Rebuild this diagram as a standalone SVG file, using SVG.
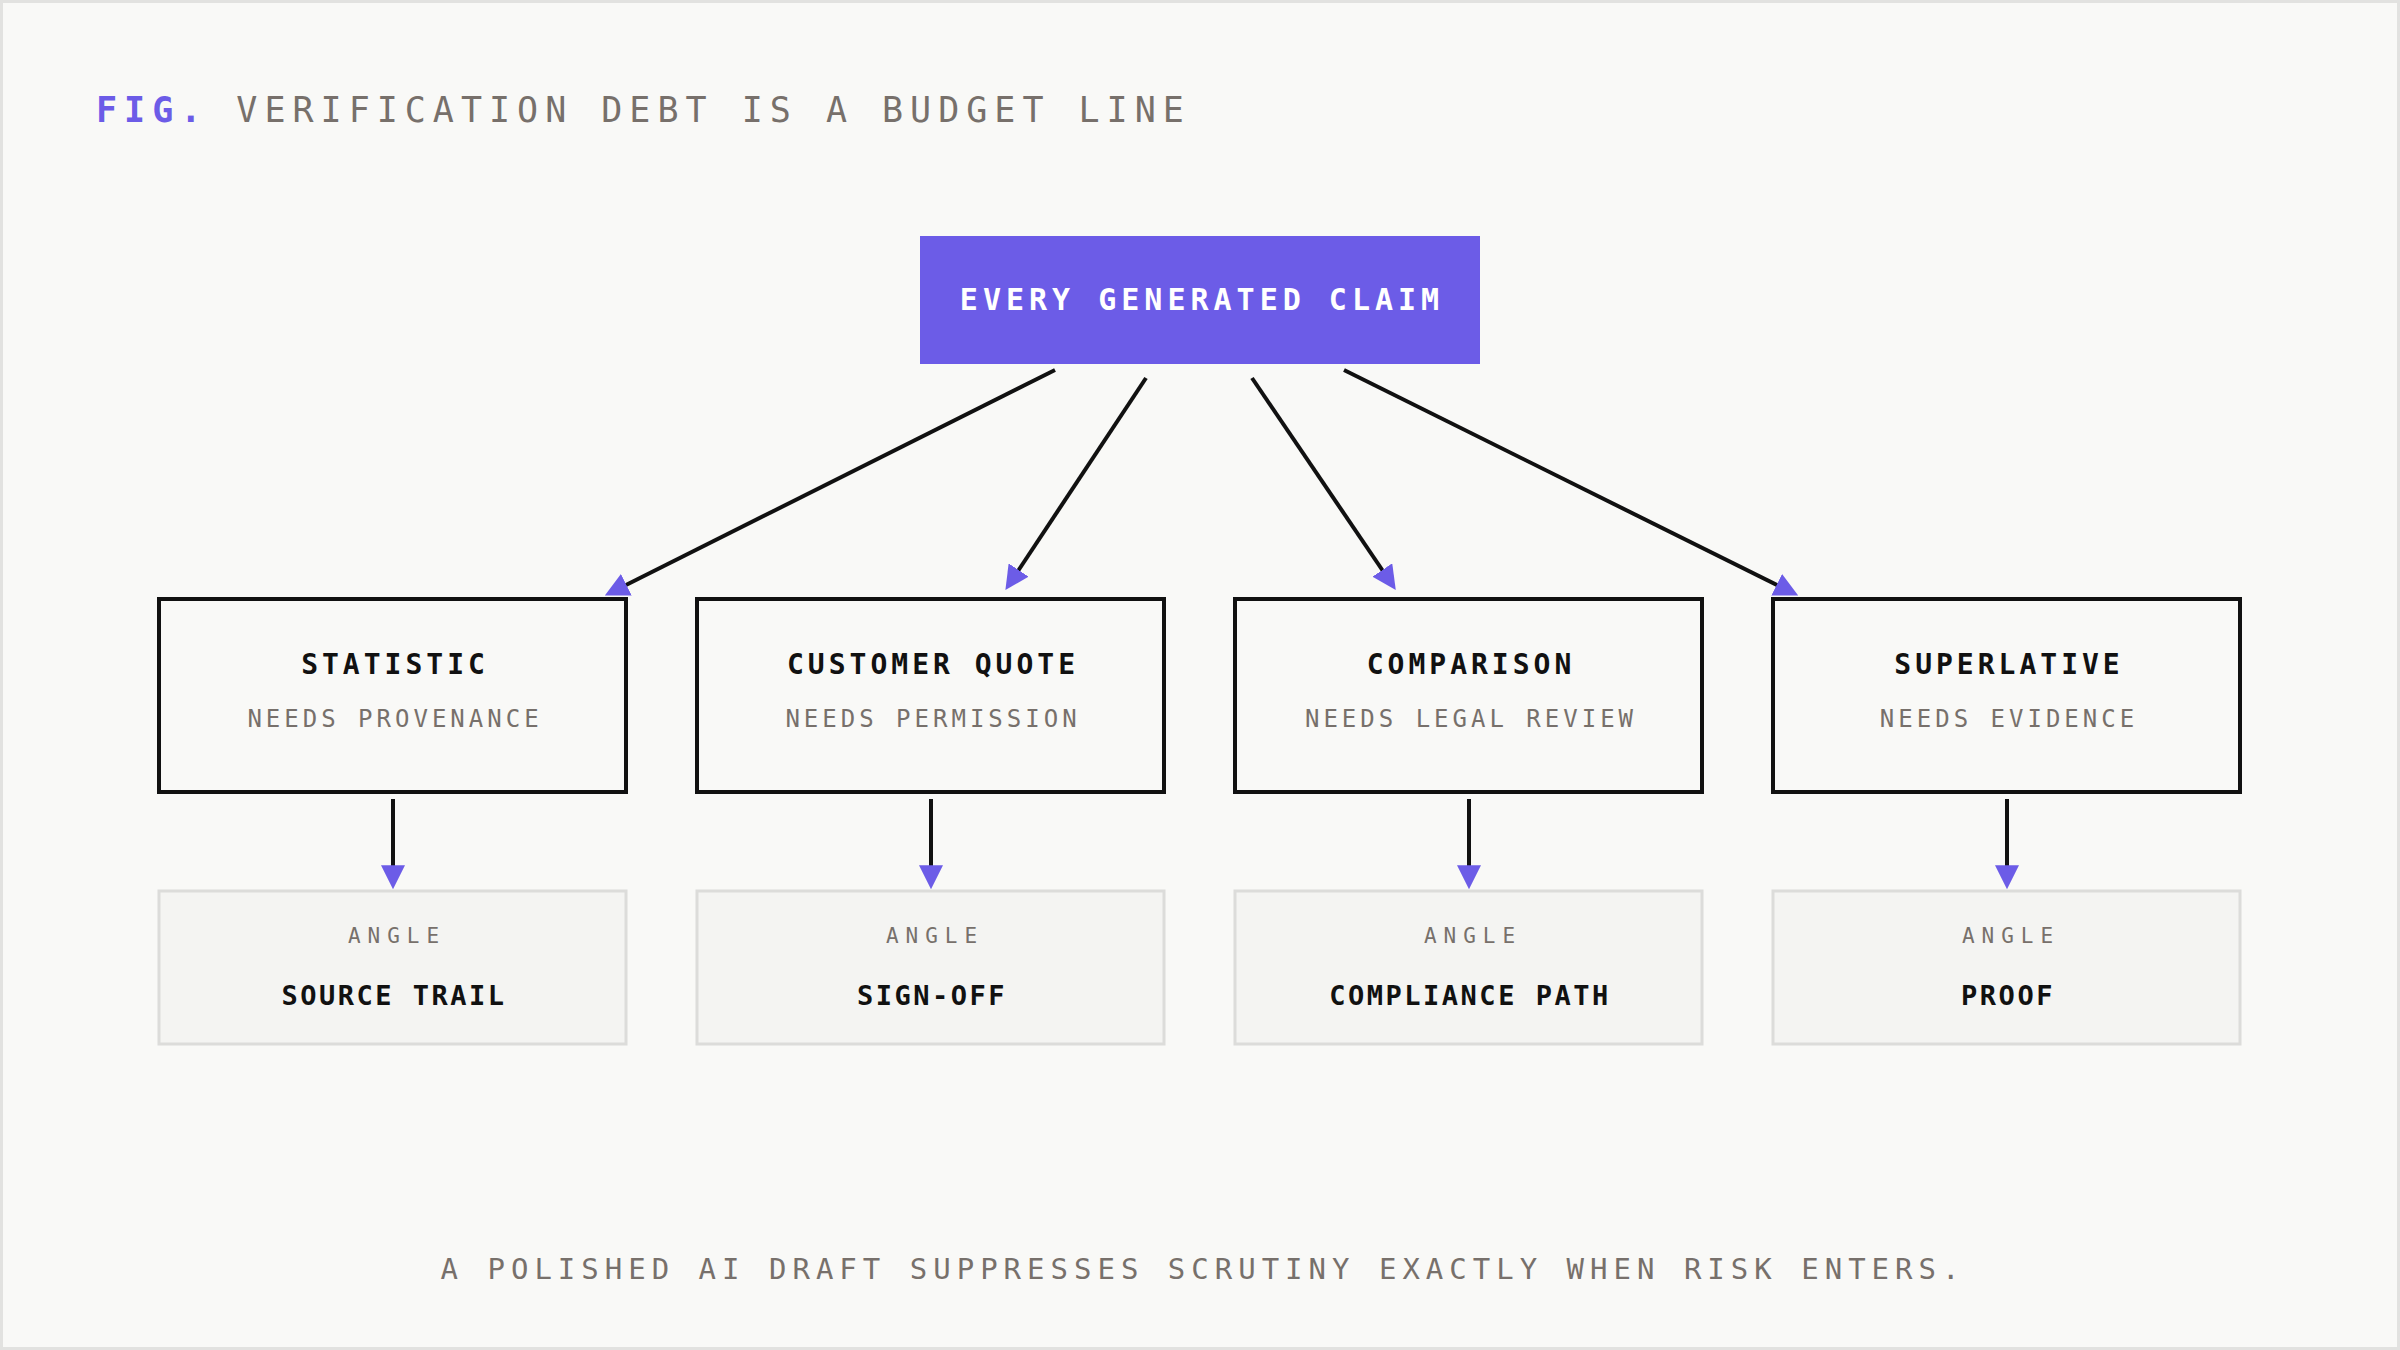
<svg xmlns="http://www.w3.org/2000/svg" width="2400" height="1350" viewBox="0 0 2400 1350">
<style>
text{font-family:"DejaVu Sans Mono","Liberation Mono",monospace;text-anchor:middle}
.nb{fill:none;stroke:#111;stroke-width:4}
.ab{fill:#f4f4f2;stroke:#dcdcda;stroke-width:3}
.t{font-size:28px;font-weight:bold;fill:#111;letter-spacing:4px}
.s{font-size:24px;fill:#77706b;letter-spacing:4px}
.a{font-size:21px;fill:#77706b;letter-spacing:7px}
.l{font-size:27px;font-weight:bold;fill:#111;letter-spacing:2.5px}
.c{stroke:#111;stroke-width:4;fill:none;marker-end:url(#ah)}
</style>
<defs><marker id="ah" viewBox="0 0 10 10" refX="2" refY="5" markerWidth="6" markerHeight="6" orient="auto" markerUnits="strokeWidth"><path d="M0,0L10,5L0,10z" fill="#6c5ce7"/></marker></defs>
<rect x="1.5" y="1.5" width="2397" height="1347" fill="#f9f9f7" stroke="#e2e2e0" stroke-width="3"/>
<text x="96" y="122" style="text-anchor:start;font-size:35px;letter-spacing:7px;fill:#77706b"><tspan fill="#6c5ce7" font-weight="bold">FIG.</tspan> VERIFICATION DEBT IS A BUDGET LINE</text>
<g id="root"><rect x="920" y="236" width="560" height="128" fill="#6c5ce7"/><text x="1202" y="310" style="font-size:30px;font-weight:bold;fill:#fff;letter-spacing:5px">EVERY GENERATED CLAIM</text></g>
<g id="connectors">
<line class="c" x1="1055" y1="370" x2="622" y2="587"/>
<line class="c" x1="1146" y1="378" x2="1016" y2="574"/>
<line class="c" x1="1252" y1="378" x2="1385" y2="574"/>
<line class="c" x1="1344" y1="370" x2="1781" y2="587"/>
<line class="c" x1="393" y1="799" x2="393" y2="870"/>
<line class="c" x1="931" y1="799" x2="931" y2="870"/>
<line class="c" x1="1469" y1="799" x2="1469" y2="870"/>
<line class="c" x1="2007" y1="799" x2="2007" y2="870"/>
</g>
<g id="n1"><rect class="nb" x="159" y="599" width="467" height="193"/><text class="t" x="395" y="674">STATISTIC</text><text class="s" x="395" y="727">NEEDS PROVENANCE</text></g>
<g id="n2"><rect class="nb" x="697" y="599" width="467" height="193"/><text class="t" x="933" y="674">CUSTOMER QUOTE</text><text class="s" x="933" y="727">NEEDS PERMISSION</text></g>
<g id="n3"><rect class="nb" x="1235" y="599" width="467" height="193"/><text class="t" x="1471" y="674">COMPARISON</text><text class="s" x="1471" y="727">NEEDS LEGAL REVIEW</text></g>
<g id="n4"><rect class="nb" x="1773" y="599" width="467" height="193"/><text class="t" x="2009" y="674">SUPERLATIVE</text><text class="s" x="2009" y="727">NEEDS EVIDENCE</text></g>
<g id="a1"><rect class="ab" x="159" y="891" width="467" height="153"/><text class="a" x="397" y="943">ANGLE</text><text class="l" x="394" y="1005">SOURCE TRAIL</text></g>
<g id="a2"><rect class="ab" x="697" y="891" width="467" height="153"/><text class="a" x="935" y="943">ANGLE</text><text class="l" x="932" y="1005">SIGN-OFF</text></g>
<g id="a3"><rect class="ab" x="1235" y="891" width="467" height="153"/><text class="a" x="1473" y="943">ANGLE</text><text class="l" x="1470" y="1005">COMPLIANCE PATH</text></g>
<g id="a4"><rect class="ab" x="1773" y="891" width="467" height="153"/><text class="a" x="2011" y="943">ANGLE</text><text class="l" x="2008" y="1005">PROOF</text></g>
<text x="1203" y="1279" style="font-size:29px;fill:#77706b;letter-spacing:6px">A POLISHED AI DRAFT SUPPRESSES SCRUTINY EXACTLY WHEN RISK ENTERS.</text>
</svg>
